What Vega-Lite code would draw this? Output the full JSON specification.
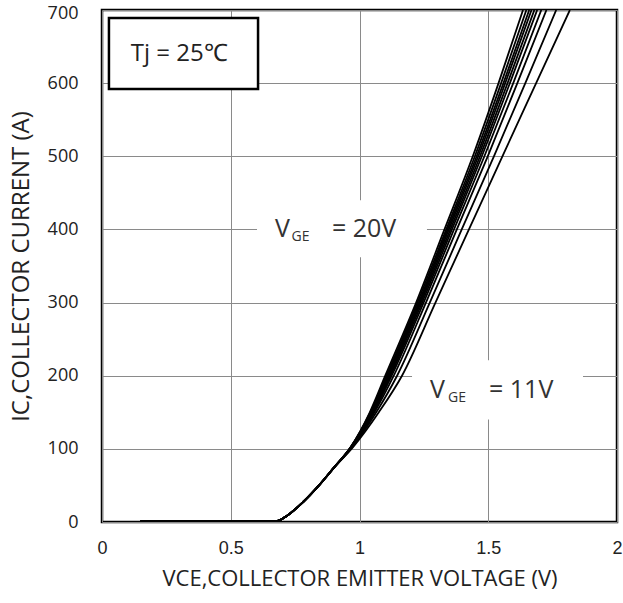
{
  "$schema": "https://vega.github.io/schema/vega-lite/v6.json",
  "width": 515,
  "height": 512,
  "autosize": {"type": "none"},
  "padding": {"left": 102, "top": 10, "right": 6, "bottom": 81},
  "background": "white",
  "config": {
    "view": {"stroke": "#000000", "strokeWidth": 2.5},
    "axis": {
      "domain": false,
      "ticks": false,
      "grid": true,
      "gridColor": "#8a8a8a",
      "gridWidth": 1,
      "labelColor": "#222222",
      "titleColor": "#222222",
      "titleFontWeight": "normal"
    }
  },
  "datasets": {
    "one": [{}],
    "curves": [
      {"vge": 20, "v": 0.15, "i": 1}, {"vge": 20, "v": 0.45, "i": 1.5}, {"vge": 20, "v": 0.68, "i": 1.5}, {"vge": 20, "v": 0.72, "i": 9}, {"vge": 20, "v": 0.78, "i": 27}, {"vge": 20, "v": 0.84, "i": 49}, {"vge": 20, "v": 0.90, "i": 74}, {"vge": 20, "v": 0.965, "i": 102}, {"vge": 20, "v": 1.04, "i": 150}, {"vge": 20, "v": 1.10, "i": 200}, {"vge": 20, "v": 1.22, "i": 300}, {"vge": 20, "v": 1.33, "i": 400}, {"vge": 20, "v": 1.44, "i": 500}, {"vge": 20, "v": 1.54, "i": 600}, {"vge": 20, "v": 1.635, "i": 700},
      {"vge": 19, "v": 0.15, "i": 1}, {"vge": 19, "v": 0.45, "i": 1.5}, {"vge": 19, "v": 0.68, "i": 1.5}, {"vge": 19, "v": 0.72, "i": 9}, {"vge": 19, "v": 0.78, "i": 27}, {"vge": 19, "v": 0.84, "i": 49}, {"vge": 19, "v": 0.90, "i": 74}, {"vge": 19, "v": 0.965, "i": 102}, {"vge": 19, "v": 1.042, "i": 150}, {"vge": 19, "v": 1.105, "i": 200}, {"vge": 19, "v": 1.225, "i": 300}, {"vge": 19, "v": 1.337, "i": 400}, {"vge": 19, "v": 1.448, "i": 500}, {"vge": 19, "v": 1.550, "i": 600}, {"vge": 19, "v": 1.648, "i": 700},
      {"vge": 18, "v": 0.15, "i": 1}, {"vge": 18, "v": 0.45, "i": 1.5}, {"vge": 18, "v": 0.68, "i": 1.5}, {"vge": 18, "v": 0.72, "i": 9}, {"vge": 18, "v": 0.78, "i": 27}, {"vge": 18, "v": 0.84, "i": 49}, {"vge": 18, "v": 0.90, "i": 74}, {"vge": 18, "v": 0.965, "i": 102}, {"vge": 18, "v": 1.045, "i": 150}, {"vge": 18, "v": 1.108, "i": 200}, {"vge": 18, "v": 1.230, "i": 300}, {"vge": 18, "v": 1.342, "i": 400}, {"vge": 18, "v": 1.455, "i": 500}, {"vge": 18, "v": 1.559, "i": 600}, {"vge": 18, "v": 1.659, "i": 700},
      {"vge": 17, "v": 0.15, "i": 1}, {"vge": 17, "v": 0.45, "i": 1.5}, {"vge": 17, "v": 0.68, "i": 1.5}, {"vge": 17, "v": 0.72, "i": 9}, {"vge": 17, "v": 0.78, "i": 27}, {"vge": 17, "v": 0.84, "i": 49}, {"vge": 17, "v": 0.90, "i": 74}, {"vge": 17, "v": 0.966, "i": 102}, {"vge": 17, "v": 1.046, "i": 150}, {"vge": 17, "v": 1.112, "i": 200}, {"vge": 17, "v": 1.234, "i": 300}, {"vge": 17, "v": 1.347, "i": 400}, {"vge": 17, "v": 1.461, "i": 500}, {"vge": 17, "v": 1.566, "i": 600}, {"vge": 17, "v": 1.668, "i": 700},
      {"vge": 16, "v": 0.15, "i": 1}, {"vge": 16, "v": 0.45, "i": 1.5}, {"vge": 16, "v": 0.68, "i": 1.5}, {"vge": 16, "v": 0.72, "i": 9}, {"vge": 16, "v": 0.78, "i": 27}, {"vge": 16, "v": 0.84, "i": 49}, {"vge": 16, "v": 0.90, "i": 74}, {"vge": 16, "v": 0.966, "i": 102}, {"vge": 16, "v": 1.048, "i": 150}, {"vge": 16, "v": 1.116, "i": 200}, {"vge": 16, "v": 1.238, "i": 300}, {"vge": 16, "v": 1.353, "i": 400}, {"vge": 16, "v": 1.468, "i": 500}, {"vge": 16, "v": 1.575, "i": 600}, {"vge": 16, "v": 1.679, "i": 700},
      {"vge": 15, "v": 0.15, "i": 1}, {"vge": 15, "v": 0.45, "i": 1.5}, {"vge": 15, "v": 0.68, "i": 1.5}, {"vge": 15, "v": 0.72, "i": 9}, {"vge": 15, "v": 0.78, "i": 27}, {"vge": 15, "v": 0.84, "i": 49}, {"vge": 15, "v": 0.90, "i": 74}, {"vge": 15, "v": 0.967, "i": 102}, {"vge": 15, "v": 1.051, "i": 150}, {"vge": 15, "v": 1.120, "i": 200}, {"vge": 15, "v": 1.243, "i": 300}, {"vge": 15, "v": 1.359, "i": 400}, {"vge": 15, "v": 1.475, "i": 500}, {"vge": 15, "v": 1.584, "i": 600}, {"vge": 15, "v": 1.690, "i": 700},
      {"vge": 14, "v": 0.15, "i": 1}, {"vge": 14, "v": 0.45, "i": 1.5}, {"vge": 14, "v": 0.68, "i": 1.5}, {"vge": 14, "v": 0.72, "i": 9}, {"vge": 14, "v": 0.78, "i": 27}, {"vge": 14, "v": 0.84, "i": 49}, {"vge": 14, "v": 0.90, "i": 74}, {"vge": 14, "v": 0.968, "i": 102}, {"vge": 14, "v": 1.054, "i": 150}, {"vge": 14, "v": 1.125, "i": 200}, {"vge": 14, "v": 1.249, "i": 300}, {"vge": 14, "v": 1.367, "i": 400}, {"vge": 14, "v": 1.485, "i": 500}, {"vge": 14, "v": 1.597, "i": 600}, {"vge": 14, "v": 1.706, "i": 700},
      {"vge": 13, "v": 0.15, "i": 1}, {"vge": 13, "v": 0.45, "i": 1.5}, {"vge": 13, "v": 0.68, "i": 1.5}, {"vge": 13, "v": 0.72, "i": 9}, {"vge": 13, "v": 0.78, "i": 27}, {"vge": 13, "v": 0.84, "i": 49}, {"vge": 13, "v": 0.90, "i": 74}, {"vge": 13, "v": 0.969, "i": 102}, {"vge": 13, "v": 1.058, "i": 150}, {"vge": 13, "v": 1.133, "i": 200}, {"vge": 13, "v": 1.258, "i": 300}, {"vge": 13, "v": 1.378, "i": 400}, {"vge": 13, "v": 1.498, "i": 500}, {"vge": 13, "v": 1.613, "i": 600}, {"vge": 13, "v": 1.726, "i": 700},
      {"vge": 12, "v": 0.15, "i": 1}, {"vge": 12, "v": 0.45, "i": 1.5}, {"vge": 12, "v": 0.68, "i": 1.5}, {"vge": 12, "v": 0.72, "i": 9}, {"vge": 12, "v": 0.78, "i": 27}, {"vge": 12, "v": 0.84, "i": 49}, {"vge": 12, "v": 0.90, "i": 74}, {"vge": 12, "v": 0.971, "i": 102}, {"vge": 12, "v": 1.065, "i": 150}, {"vge": 12, "v": 1.146, "i": 200}, {"vge": 12, "v": 1.273, "i": 300}, {"vge": 12, "v": 1.397, "i": 400}, {"vge": 12, "v": 1.522, "i": 500}, {"vge": 12, "v": 1.644, "i": 600}, {"vge": 12, "v": 1.764, "i": 700},
      {"vge": 11, "v": 0.15, "i": 1}, {"vge": 11, "v": 0.45, "i": 1.5}, {"vge": 11, "v": 0.68, "i": 1.5}, {"vge": 11, "v": 0.72, "i": 9}, {"vge": 11, "v": 0.78, "i": 27}, {"vge": 11, "v": 0.84, "i": 49}, {"vge": 11, "v": 0.90, "i": 74}, {"vge": 11, "v": 0.974, "i": 102}, {"vge": 11, "v": 1.075, "i": 150}, {"vge": 11, "v": 1.165, "i": 200}, {"vge": 11, "v": 1.295, "i": 300}, {"vge": 11, "v": 1.425, "i": 400}, {"vge": 11, "v": 1.555, "i": 500}, {"vge": 11, "v": 1.686, "i": 600}, {"vge": 11, "v": 1.817, "i": 700}
    ]
  },
  "layer": [
    {
      "data": {"name": "one"},
      "mark": {"type": "rect", "fill": "white", "stroke": null},
      "encoding": {
        "x": {"datum": 0.602, "type": "quantitative", "scale": {"domain": [0, 2]}},
        "x2": {"datum": 1.262},
        "y": {"datum": 440, "type": "quantitative", "scale": {"domain": [0, 700]}},
        "y2": {"datum": 362}
      }
    },
    {
      "data": {"name": "one"},
      "mark": {"type": "rect", "fill": "white", "stroke": null},
      "encoding": {
        "x": {"datum": 1.204, "type": "quantitative"},
        "x2": {"datum": 1.868},
        "y": {"datum": 221, "type": "quantitative"},
        "y2": {"datum": 140}
      }
    },
    {
      "data": {"name": "curves"},
      "mark": {"type": "line", "color": "#000000", "strokeWidth": 1.8, "interpolate": "monotone", "clip": true},
      "encoding": {
        "x": {
          "field": "v",
          "type": "quantitative",
          "scale": {"domain": [0, 2], "nice": false},
          "axis": {
            "values": [0, 0.5, 1, 1.5, 2],
            "labelExpr": "datum.value == 0.5 ? '0.5' : datum.value == 1.5 ? '1.5' : format(datum.value, 'd')",
            "labelFont": "Liberation Sans",
            "labelFontSize": 18,
            "labelPadding": 17,
            "labelFlush": false,
            "title": "VCE,COLLECTOR EMITTER VOLTAGE (V)",
            "titleFont": "Open Sans",
            "titleFontSize": 22,
            "titlePadding": 11
          }
        },
        "y": {
          "field": "i",
          "type": "quantitative",
          "scale": {"domain": [0, 700], "nice": false},
          "axis": {
            "values": [0, 100, 200, 300, 400, 500, 600, 700],
            "labelFont": "Open Sans",
            "labelFontSize": 18,
            "labelPadding": 24,
            "labelFlush": false,
            "labelOffset": {"condition": {"test": "datum.value == 700", "value": 3}, "value": 0},
            "title": "IC,COLLECTOR CURRENT (A)",
            "titleFont": "Open Sans",
            "titleFontSize": 24,
            "titlePadding": 14
          }
        },
        "detail": {"field": "vge", "type": "nominal"}
      }
    },
    {
      "data": {"name": "one"},
      "mark": {"type": "rect", "fill": "white", "stroke": "#000000", "strokeWidth": 2.5},
      "encoding": {
        "x": {"datum": 0.027, "type": "quantitative"},
        "x2": {"datum": 0.606},
        "y": {"datum": 689, "type": "quantitative"},
        "y2": {"datum": 592}
      }
    },
    {
      "data": {"name": "one"},
      "mark": {"type": "text", "text": "Tj = 25℃", "font": "Open Sans", "fontSize": 24, "color": "#222222", "align": "center", "baseline": "middle"},
      "encoding": {
        "x": {"datum": 0.300, "type": "quantitative"},
        "y": {"datum": 640, "type": "quantitative"}
      }
    },
    {
      "data": {"name": "one"},
      "mark": {"type": "text", "text": "V", "font": "Open Sans", "fontSize": 25, "color": "#333333", "align": "left", "baseline": "middle"},
      "encoding": {
        "x": {"datum": 0.672, "type": "quantitative"},
        "y": {"datum": 400, "type": "quantitative"}
      }
    },
    {
      "data": {"name": "one"},
      "mark": {"type": "text", "text": "GE", "font": "Open Sans", "fontSize": 14, "color": "#333333", "align": "left", "baseline": "middle"},
      "encoding": {
        "x": {"datum": 0.736, "type": "quantitative"},
        "y": {"datum": 389, "type": "quantitative"}
      }
    },
    {
      "data": {"name": "one"},
      "mark": {"type": "text", "text": "=  20V", "font": "Open Sans", "fontSize": 25, "color": "#333333", "align": "left", "baseline": "middle"},
      "encoding": {
        "x": {"datum": 0.893, "type": "quantitative"},
        "y": {"datum": 400, "type": "quantitative"}
      }
    },
    {
      "data": {"name": "one"},
      "mark": {"type": "text", "text": "V", "font": "Open Sans", "fontSize": 25, "color": "#333333", "align": "left", "baseline": "middle"},
      "encoding": {
        "x": {"datum": 1.274, "type": "quantitative"},
        "y": {"datum": 180, "type": "quantitative"}
      }
    },
    {
      "data": {"name": "one"},
      "mark": {"type": "text", "text": "GE", "font": "Open Sans", "fontSize": 14, "color": "#333333", "align": "left", "baseline": "middle"},
      "encoding": {
        "x": {"datum": 1.344, "type": "quantitative"},
        "y": {"datum": 169, "type": "quantitative"}
      }
    },
    {
      "data": {"name": "one"},
      "mark": {"type": "text", "text": "=  11V", "font": "Open Sans", "fontSize": 25, "color": "#333333", "align": "left", "baseline": "middle"},
      "encoding": {
        "x": {"datum": 1.503, "type": "quantitative"},
        "y": {"datum": 180, "type": "quantitative"}
      }
    }
  ]
}
